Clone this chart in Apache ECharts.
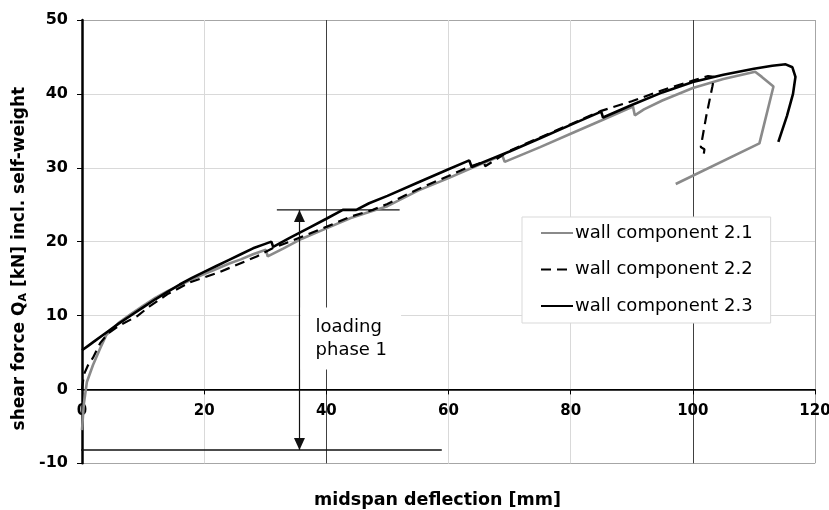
<!DOCTYPE html>
<html>
<head>
<meta charset="utf-8">
<script src="https://cdn.jsdelivr.net/npm/echarts@6/dist/echarts.min.js"></script>
<style>html,body{margin:0;padding:0;background:#fff;}#c{width:829px;height:510px;}</style>
</head>
<body>
<div id="c"></div>
<script>
// ---- data ----
const names = ['wall component 2.1', 'wall component 2.2', 'wall component 2.3'];
const wall21 = [[0,-5.5],[0.3,-2],[0.8,1],[1.8,3.3],[3,5.6],[4,7.4],[6,9.0],[8,10.2],[10,11.3],[12,12.4],[14,13.3],[16,14.1],[18,14.9],[20,15.6],[22,16.3],[24,17.0],[26,17.6],[28,18.3],[30.1,18.9],[30.4,18.0],[33,19.1],[36,20.4],[40,21.8],[44,23.2],[47,24.0],[50,24.8],[55,26.9],[60,28.6],[65,30.4],[68.8,31.7],[69.2,30.8],[75,32.8],[80,34.6],[85,36.4],[90.2,38.3],[90.5,37.1],[92,37.9],[95,39.1],[100,40.8],[105,42.0],[110.2,43.0],[111.3,42.3],[113.2,41.0],[110.9,33.3],[97.2,27.8]];
const wall22 = [[0,0],[0.3,2],[1,3.3],[1.8,4.3],[3,6.3],[4.3,7.6],[6,8.6],[9,9.9],[11,11.2],[14,12.9],[17.7,14.5],[22.6,15.9],[28.6,18.0],[31.2,19.1],[34,20.0],[37,21.0],[40,22.0],[44,23.4],[47.6,24.3],[50,25.1],[55,27.1],[60,28.9],[63,30.0],[65.8,30.8],[66,30.2],[70,32.3],[75,34.1],[80,35.9],[85,37.7],[90,39.0],[95,40.5],[100,41.8],[102.5,42.4],[103.5,42.3],[103.2,41.0],[102.2,37.0],[101.3,32.8],[101.9,32.5],[101.8,31.9]];
const wall23 = [[0,5.3],[1,5.9],[2,6.5],[4,7.7],[6,8.9],[8,10.0],[10,11.1],[12,12.2],[14,13.2],[16,14.2],[18,15.1],[20,15.9],[22,16.7],[24,17.5],[26,18.3],[28,19.1],[30,19.7],[31,20.0],[31.3,19.3],[34,20.5],[37,21.8],[40,23.1],[42.7,24.3],[44.9,24.3],[47,25.2],[50,26.2],[55,28.0],[60,29.8],[63.4,31.0],[63.8,30.1],[67,31.2],[70,32.2],[75,34.0],[80,35.8],[85,37.6],[85.3,36.8],[90,38.5],[95,40.2],[100,41.6],[105,42.6],[110,43.4],[113,43.8],[115.2,44.0],[116.3,43.6],[116.8,42.3],[116.4,40.0],[115.4,37.0],[114.0,33.5]];
// annotation (loading phase 1)
const annoTopY = 24.3;
const annoBottomY = -8.2;
const annoArrowX = 35.6;
const annoTopSpan = [31.9, 52.0];
const annoBottomSpan = [-0.8, 58.9];
const annoText = ['loading', 'phase 1'];
const annoTextPos = [35.7, 6.9];
// axes
const xRange = [0, 120, 20];
const yRange = [-10, 50, 10];

const FONT = 'DejaVu Sans';
const chart = echarts.init(document.getElementById('c'), null, {renderer: 'canvas'});
const light = '#d9d9d9', frame = '#a6a6a6', dark = '#404040';

function hLine(span, y) {
  return {type: 'line', data: [[span[0], y], [span[1], y]], clip: false, silent: true, symbol: 'none',
          showSymbol: false, lineStyle: {color: '#111', width: 1.4}, itemStyle: {color: '#111'}, z: 1};
}

chart.setOption({
  animation: false,
  backgroundColor: '#fff',
  grid: {left: 82, right: 14, top: 20, bottom: 46.7, containLabel: false, outerBoundsMode: 'none'},
  xAxis: {
    type: 'value', min: xRange[0], max: xRange[1], interval: xRange[2],
    name: 'midspan deflection [mm]', nameLocation: 'middle', nameGap: 28,
    nameTextStyle: {fontFamily: FONT, fontWeight: 'bold', fontSize: 17.5, color: '#000', padding: [0, 22, 0, 0]},
    axisLine: {onZero: true, lineStyle: {color: '#000', width: 1.5}},
    axisTick: {show: true, length: 5, lineStyle: {color: '#000', width: 1}},
    axisLabel: {margin: -60, fontFamily: FONT, fontWeight: 'bold', fontSize: 15, color: '#000'},
    splitLine: {show: true, lineStyle: {color: ['#000', light, dark, light, light, dark, frame], width: 1}}
  },
  yAxis: {
    type: 'value', min: yRange[0], max: yRange[1], interval: yRange[2],
    name: 'shear force Q{sub|A} [kN] incl. self-weight', nameLocation: 'middle', nameGap: 52,
    nameTextStyle: {
      fontFamily: FONT, fontWeight: 'bold', fontSize: 17, color: '#000', padding: [0, 34, 0, 0],
      rich: {sub: {fontFamily: FONT, fontWeight: 'bold', fontSize: 11, color: '#000', verticalAlign: 'bottom', lineHeight: 12, padding: [6, 0, 0, 0]}}
    },
    axisLine: {onZero: false, lineStyle: {color: '#000', width: 2.5}},
    axisTick: {show: true, length: 5, lineStyle: {color: '#000', width: 1}},
    axisLabel: {margin: 14, fontFamily: FONT, fontWeight: 'bold', fontSize: 16, color: '#000'},
    splitLine: {show: true, lineStyle: {color: [frame, '#000', light, light, light, light, frame], width: 1}}
  },
  legend: {
    data: names, orient: 'vertical', left: 522, top: 217,
    backgroundColor: '#fff', borderColor: '#d9d9d9', borderWidth: 1, borderRadius: 0,
    padding: [7, 18, 8, 18], itemGap: 18.5, itemWidth: 32, itemHeight: 14,
    itemStyle: {opacity: 0},
    textStyle: {fontFamily: FONT, fontSize: 18, color: '#000', padding: [0, 0, 0, -3]}
  },
  series: [
    {name: names[0], type: 'line', data: wall21, showSymbol: false, symbol: 'none', smooth: false,
     lineStyle: {color: '#8a8a8a', width: 2.6}, itemStyle: {color: '#8a8a8a'}, z: 2},
    {name: names[1], type: 'line', data: wall22, showSymbol: false, symbol: 'none',
     lineStyle: {color: '#000', width: 2.2, type: [10, 6]}, itemStyle: {color: '#000'}, z: 3},
    {name: names[2], type: 'line', data: wall23, showSymbol: false, symbol: 'none',
     lineStyle: {color: '#000', width: 2.6}, itemStyle: {color: '#000'}, z: 4},
    hLine(annoTopSpan, annoTopY),
    hLine(annoBottomSpan, annoBottomY),
    {name: 'annotation', type: 'line', data: [], clip: false, silent: true,
     markLine: {
       silent: true, animation: false, symbol: 'none', symbolOffset: [[0, 6], [0, 6]],
       label: {show: false},
       lineStyle: {color: '#111', width: 1.2, type: 'solid'},
       data: [
         [{coord: [annoArrowX, annoTopY], symbol: 'triangle', symbolSize: [11, 12]},
          {coord: [annoArrowX, annoBottomY], symbol: 'triangle', symbolSize: [11, 12]}]
       ]
     }},
    {name: 'annoText', type: 'scatter', data: [annoTextPos], symbolSize: 1,
     itemStyle: {color: 'rgba(0,0,0,0)'}, silent: true, z: 5,
     label: {show: true, position: 'right', distance: 0, formatter: annoText.join('\n'),
       fontFamily: FONT, fontSize: 18, color: '#000', lineHeight: 23, align: 'left', opacity: 1,
       backgroundColor: '#fff', padding: [8, 14, 8, 15]}}
  ]
});
</script>
</body>
</html>
